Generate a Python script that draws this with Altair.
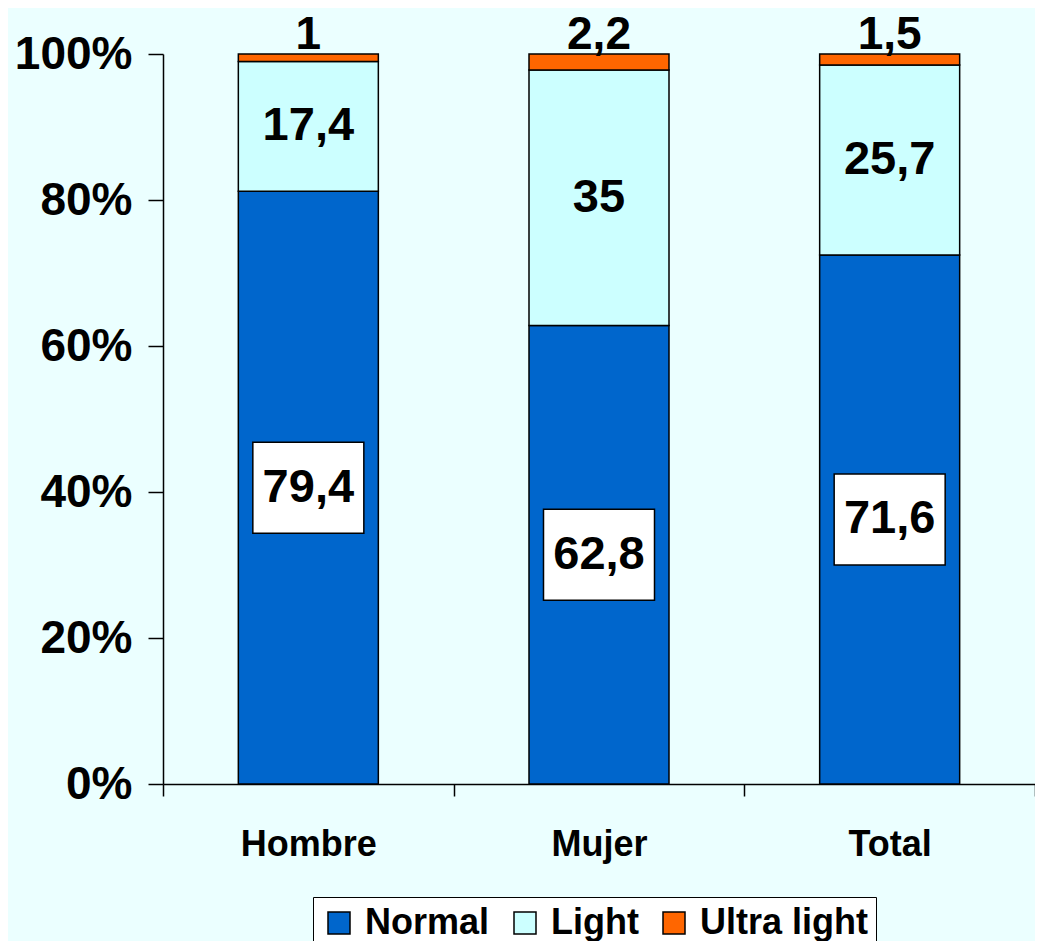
import altair as alt
import pandas as pd

categories = ["Hombre", "Mujer", "Total"]
types = ["Normal", "Light", "Ultra light"]
normal = [79.4, 62.8, 71.6]
light = [17.4, 35.0, 25.7]
ultra = [1.0, 2.2, 1.5]
y_ticks = [0, 0.2, 0.4, 0.6, 0.8, 1.0]
colors = ["#0066CC", "#CCFFFF", "#FF6600"]

rows = []
for i, c in enumerate(categories):
    for k, (t, series) in enumerate(zip(types, [normal, light, ultra])):
        v = series[i]
        rows.append({"cat": c, "type": t, "value": v, "order": k,
                     "label": f"{v:g}".replace(".", ",")})
df = pd.DataFrame(rows)

FONT = "Liberation Sans"

base = alt.Chart(df).transform_joinaggregate(
    total="sum(value)", groupby=["cat"]
).transform_window(
    cum="sum(value)", sort=[alt.SortField("order")], groupby=["cat"], frame=[None, 0]
).transform_calculate(
    top="datum.cum / datum.total",
    mid="(datum.cum - datum.value / 2) / datum.total",
)

xscale = alt.Scale(paddingInner=0, paddingOuter=0)

x_enc = alt.X("cat:N", sort=categories, title=None, scale=xscale,
              axis=alt.Axis(labelAngle=0, labelFontSize=36, labelFont=FONT,
                            labelFontWeight="bold", labelColor="black",
                            tickBand="extent", tickSize=12, tickColor="black",
                            tickWidth=1.5, domainColor="black", domainWidth=1.5,
                            labelPadding=31, grid=False))

yscale = alt.Scale(domain=[0, 1])

bars = base.mark_bar(stroke="black", strokeWidth=1.5, opacity=1, width=140).encode(
    x=x_enc,
    y=alt.Y("value:Q", stack="normalize", scale=yscale, title=None,
            axis=alt.Axis(values=y_ticks, format=".0%", labelFontSize=46,
                          labelFont=FONT, labelFontWeight="bold",
                          labelColor="black", tickSize=15, tickColor="black",
                          tickWidth=1.5, domainColor="black", domainWidth=1.5,
                          labelPadding=16, grid=False)),
    color=alt.Color("type:N", scale=alt.Scale(domain=types, range=colors),
                    legend=alt.Legend(title=None, orient="none", legendX=150,
                                      legendY=843, direction="horizontal",
                                      fillColor="white", strokeColor="black",
                                      padding=8, labelFontSize=36, labelFont=FONT,
                                      labelFontWeight="bold", labelColor="black",
                                      labelLimit=0,
                                      symbolType="square", symbolSize=484,
                                      symbolStrokeColor="black",
                                      symbolStrokeWidth=1.5, symbolOpacity=1,
                                      columnPadding=17, labelOffset=8)),
    order=alt.Order("order:Q"),
)

boxes = base.transform_filter("datum.type == 'Normal'").mark_point(
    shape="M-1,-0.82L1,-0.82L1,0.82L-1,0.82Z", size=12321, filled=True,
    fill="white", stroke="black", strokeWidth=1.5, opacity=1
).encode(x=alt.X("cat:N", sort=categories, scale=xscale),
         y=alt.Y("mid:Q", scale=yscale))

mid_text = base.transform_filter("datum.type != 'Ultra light'").mark_text(
    font=FONT, fontSize=47, fontWeight="bold", color="black", baseline="middle"
).encode(x=alt.X("cat:N", sort=categories, scale=xscale),
         y=alt.Y("mid:Q", scale=yscale), text="label:N")

top_text = base.transform_filter("datum.type == 'Ultra light'").mark_text(
    font=FONT, fontSize=46, fontWeight="bold", color="black",
    baseline="alphabetic", dy=-5
).encode(x=alt.X("cat:N", sort=categories, scale=xscale),
         y=alt.Y("top:Q", scale=yscale), text="label:N")

chart = alt.layer(bars, boxes, mid_text, top_text).properties(
    width=872, height=730,
    background="#EBFFFF",
    padding={"left": 155, "top": 46, "right": 0, "bottom": 157},
    autosize=alt.AutoSizeParams(type="none"),
).configure_view(stroke=None)

chart.save("out.html", embed_options={"renderer": "svg", "actions": False})
